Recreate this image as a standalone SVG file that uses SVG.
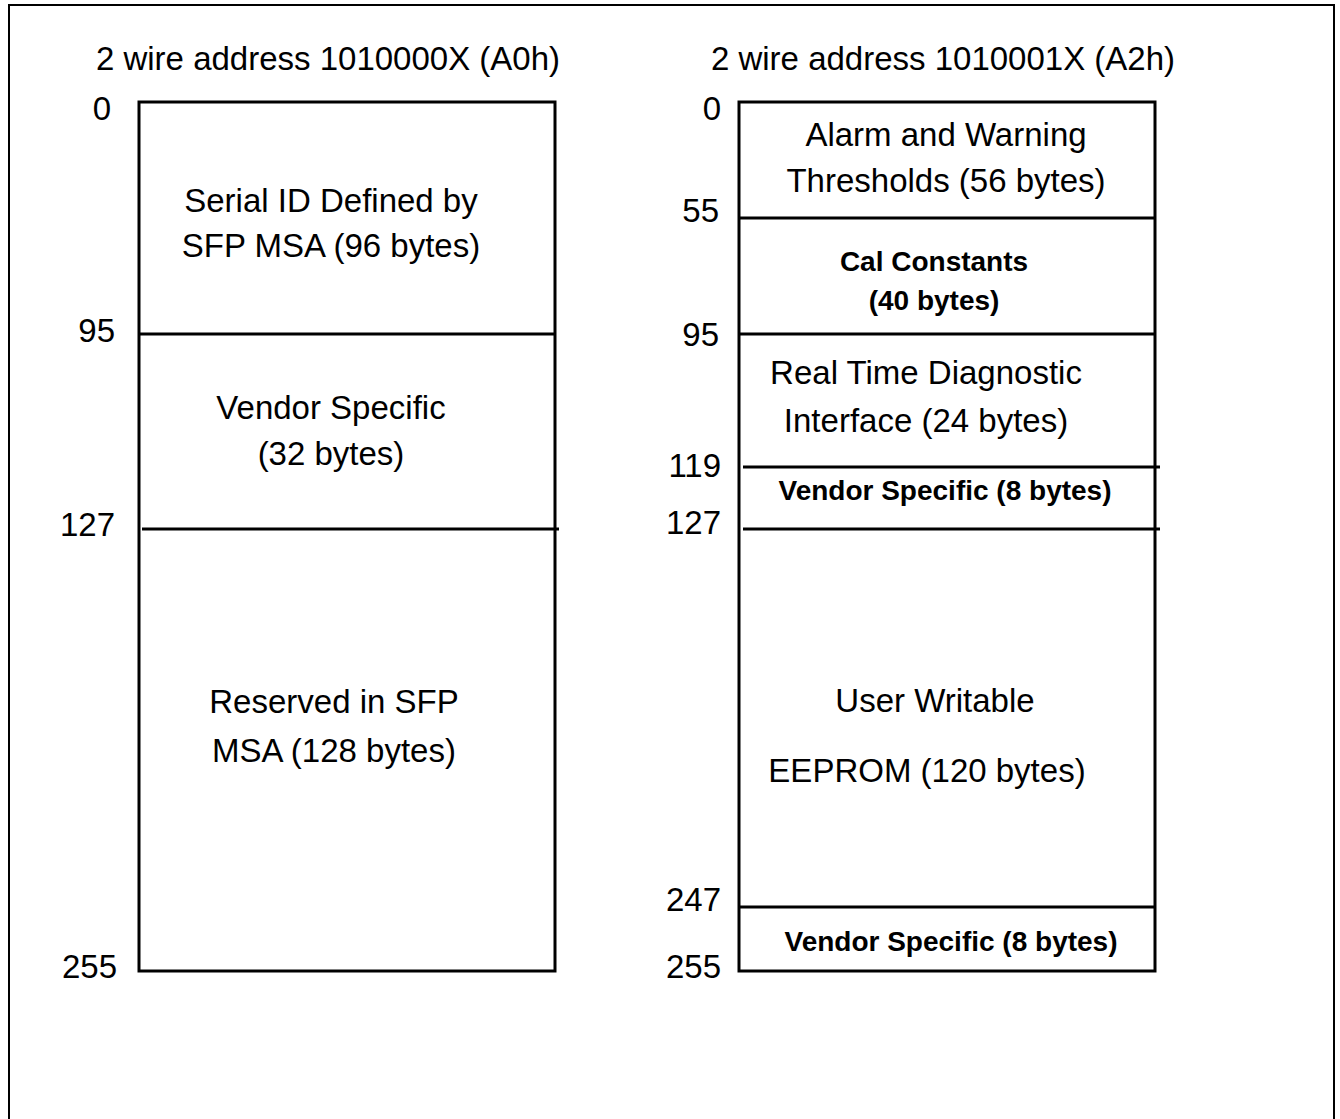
<svg xmlns="http://www.w3.org/2000/svg" width="1340" height="1119" viewBox="0 0 1340 1119">
<style>
.t{font-family:"Liberation Sans",Arial,sans-serif;font-size:33px;fill:#000}
.c{text-anchor:middle}
.r{text-anchor:end}
.b{font-weight:bold;font-size:28px}
.box{fill:none;stroke:#000;stroke-width:3}
.ln{stroke:#000;stroke-width:3}
</style>
<rect x="0" y="0" width="1340" height="1119" fill="#fff"/>
<rect x="9" y="5" width="1325" height="1130" fill="none" stroke="#000" stroke-width="2"/>
<g id="titles">
<text class="t c" x="328" y="70">2 wire address 1010000X (A0h)</text>
<text class="t c" x="943" y="70">2 wire address 1010001X (A2h)</text>
</g>
<g id="left-memory">
<rect class="box" x="139" y="102" width="416" height="869"/>
<g id="left-serial-id">
<text class="t c" x="331" y="212">Serial ID Defined by</text>
<text class="t c" x="331" y="257">SFP MSA (96 bytes)</text>
</g>
<g id="left-vendor">
<text class="t c" x="331" y="419">Vendor Specific</text>
<text class="t c" x="331" y="465">(32 bytes)</text>
</g>
<g id="left-reserved">
<text class="t c" x="334" y="713">Reserved in SFP</text>
<text class="t c" x="334" y="762">MSA (128 bytes)</text>
</g>
<g id="left-offsets">
<text class="t r" x="111" y="120">0</text>
<text class="t r" x="115" y="342">95</text>
<text class="t r" x="115" y="536">127</text>
<text class="t r" x="117" y="978">255</text>
</g>
</g>
<g id="right-memory">
<rect class="box" x="739" y="102" width="416" height="869"/>
<g id="right-alarm">
<text class="t c" x="946" y="146">Alarm and Warning</text>
<text class="t c" x="946" y="192">Thresholds (56 bytes)</text>
</g>
<g id="right-cal">
<text class="t c b" x="934" y="271">Cal Constants</text>
<text class="t c b" x="934" y="310">(40 bytes)</text>
</g>
<g id="right-rtd">
<text class="t c" x="926" y="384">Real Time Diagnostic</text>
<text class="t c" x="926" y="432">Interface (24 bytes)</text>
</g>
<g id="right-vendor1">
<text class="t c b" x="945" y="500">Vendor Specific (8 bytes)</text>
</g>
<g id="right-user">
<text class="t c" x="935" y="712">User Writable</text>
<text class="t c" x="927" y="782">EEPROM (120 bytes)</text>
</g>
<g id="right-vendor2">
<text class="t c b" x="951" y="951">Vendor Specific (8 bytes)</text>
</g>
<g id="right-offsets">
<text class="t r" x="721" y="120">0</text>
<text class="t r" x="719" y="222">55</text>
<text class="t r" x="719" y="346">95</text>
<text class="t r" x="721" y="477">119</text>
<text class="t r" x="721" y="534">127</text>
<text class="t r" x="721" y="911">247</text>
<text class="t r" x="721" y="978">255</text>
</g>
</g>
<g id="connectors">
<line class="ln" x1="139" y1="334" x2="555" y2="334"/>
<line class="ln" x1="142" y1="529" x2="559" y2="529"/>
<line class="ln" x1="739" y1="218" x2="1155" y2="218"/>
<line class="ln" x1="739" y1="334" x2="1155" y2="334"/>
<line class="ln" x1="743" y1="467" x2="1160" y2="467"/>
<line class="ln" x1="743" y1="529" x2="1160" y2="529"/>
<line class="ln" x1="739" y1="907" x2="1155" y2="907"/>
</g>
</svg>
